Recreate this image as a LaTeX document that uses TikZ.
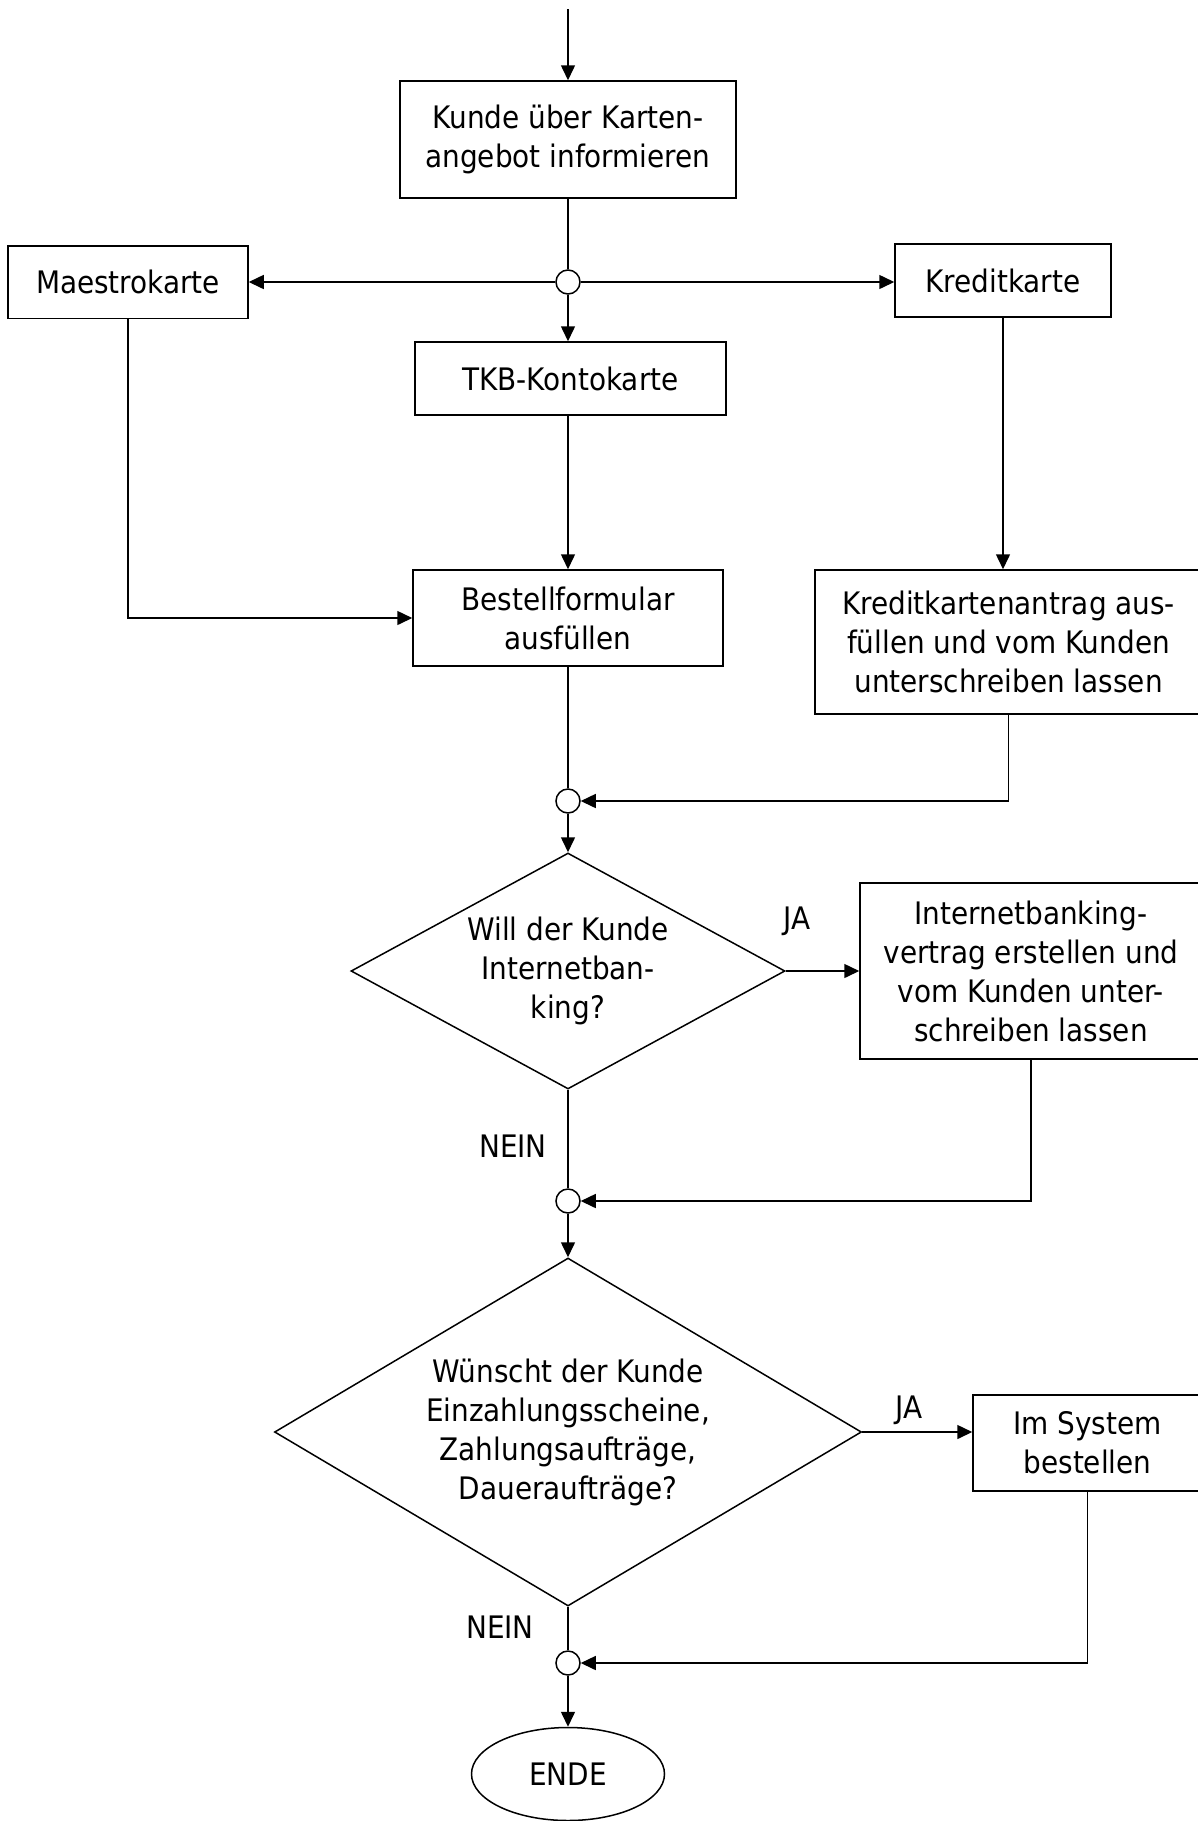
\documentclass[tikz,border=0pt]{standalone}
\usepackage{fontspec}
\setmainfont{DejaVu Sans Condensed}
\usetikzlibrary{shapes.geometric, arrows.meta}
\tikzstyle{startstop} = [ellipse, draw=black, text centered, inner sep=0pt]
\tikzstyle{process} = [rectangle, draw=black, text centered, inner sep=0pt]
\tikzstyle{decision} = [diamond, draw=black, text centered, inner sep=0pt]
\tikzstyle{junction} = [circle, draw=black, fill=white, minimum size=12pt, inner sep=0pt]
\tikzstyle{answer} = [inner sep=0pt]
\tikzstyle{arrow} = [-{Triangle[length=7.5pt,width=7pt]}]

\begin{document}
\begin{tikzpicture}[x=0.5pt, y=-0.5pt, align=center, line width=0.75pt, font=\fontsize{15.5pt}{19.5pt}\selectfont]
    \useasboundingbox (0,0) rectangle (1198,1821);
    \coordinate (entry) at (568,9);
    \node (inform) [process, minimum width=168pt, minimum height=58.5pt] at (568,139.5) {Kunde über Karten-\\angebot informieren};
    \node (split) [junction] at (568,282) {};
    \node (maestro) [process, minimum width=120pt, minimum height=36.25pt] at (128,282) {Maestrokarte};
    \node (kredit) [process, minimum width=108pt, minimum height=36.5pt] at (1003,280.5) {Kreditkarte};
    \node (tkb) [process, minimum width=155.5pt, minimum height=36.5pt] at (570.5,378.5) {TKB-Kontokarte};
    \node (formular) [process, minimum width=155pt, minimum height=48pt] at (568,618) {Bestellformular\\ausfüllen};
    \node (antrag) [process, minimum width=193.5pt, minimum height=72pt] at (1008.5,642) {Kreditkartenantrag aus-\\füllen und vom Kunden\\unterschreiben lassen};
    \node (mergeone) [junction] at (568,801) {};
    \node (askbanking) [decision, aspect=1.84, minimum width=217pt, minimum height=118pt] at (568,971) {Will der Kunde\\Internetban-\\king?};
    \node (vertrag) [process, minimum width=171pt, minimum height=88pt] at (1031,971) {Internetbanking-\\vertrag erstellen und\\vom Kunden unter-\\schreiben lassen};
    \node (yesbanking) [answer] at (797,921) {JA};
    \node (nobanking) [answer] at (513,1146) {NEIN};
    \node (mergetwo) [junction] at (568,1201) {};
    \node (askorder) [decision, aspect=1.69, minimum width=293.5pt, minimum height=174pt] at (568,1432) {Wünscht der Kunde\\Einzahlungsscheine,\\Zahlungsaufträge,\\Daueraufträge?};
    \node (system) [process, minimum width=114.5pt, minimum height=48pt] at (1087.5,1443) {Im System\\bestellen};
    \node (yesorder) [answer] at (909,1410) {JA};
    \node (noorder) [answer] at (500,1627) {NEIN};
    \node (mergethree) [junction] at (568,1663) {};
    \node (ende) [startstop, minimum width=96.5pt, minimum height=46.5pt] at (568,1774) {ENDE};

    \draw [arrow] (entry) -- (inform.north);
    \draw (inform.south) -- (split.north);
    \draw [arrow] (split.west) -- (split.west -| maestro.east);
    \draw [arrow] (split.east) -- (split.east -| kredit.west);
    \draw [arrow] (split.south) -- (split.south |- tkb.north);
    \draw [arrow] (tkb.south -| formular.north) -- (formular.north);
    \draw [arrow] (maestro.south) |- (formular.west);
    \draw [arrow] (kredit.south) -- (kredit.south |- antrag.north);
    \draw (formular.south) -- (mergeone.north);
    \draw [arrow] (antrag.south) |- (mergeone.east);
    \draw [arrow] (mergeone.south) -- (askbanking.north);
    \draw [arrow] (askbanking.east) -- (askbanking.east -| vertrag.west);
    \draw (askbanking.south) -- (mergetwo.north);
    \draw [arrow] (vertrag.south) |- (mergetwo.east);
    \draw [arrow] (mergetwo.south) -- (askorder.north);
    \draw [arrow] (askorder.east) -- (askorder.east -| system.west);
    \draw (askorder.south) -- (mergethree.north);
    \draw [arrow] (system.south) |- (mergethree.east);
    \draw [arrow] (mergethree.south) -- (ende.north);
\end{tikzpicture}
\end{document}
